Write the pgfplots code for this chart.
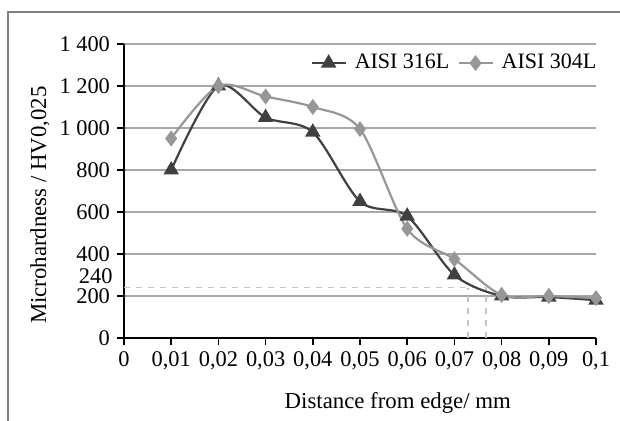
\documentclass[border=0pt]{standalone}
\usepackage{pgfplots}
\pgfplotsset{compat=1.18}
\usepackage{fontspec}
\setmainfont{Liberation Serif}
\definecolor{darkser}{HTML}{404040}
\definecolor{lightser}{HTML}{979797}
\definecolor{gridc}{HTML}{A8A8A8}
\definecolor{dashc}{HTML}{C4C4C4}
\begin{document}
\begin{tikzpicture}
\useasboundingbox (-62pt,-41.5pt) rectangle (248pt,169pt);
\begin{axis}[scale only axis, width=236pt, height=147pt,
  xmin=0, xmax=0.1, ymin=0, ymax=1400,
  axis x line=bottom, axis y line=left,
  axis line style={black, line width=0.9pt, -},
  tick align=outside, major tick length=3.5pt,
  tick style={black, line width=0.8pt},
  xtick={0,0.01,...,0.1},
  xticklabels={0,{0,01},{0,02},{0,03},{0,04},{0,05},{0,06},{0,07},{0,08},{0,09},{0,1}},
  ytick={0,200,...,1400},
  yticklabels={0,200,400,600,800,{1 000},{1 200},{1 400}},
  ymajorgrids, major grid style={gridc, line width=0.8pt},
  tick label style={font=\fontsize{11.2}{13}\selectfont},
  label style={font=\fontsize{11.4}{13}\selectfont},
  xlabel={Distance from edge/ mm},
  ylabel={Microhardness / HV0,025},
  xlabel style={at={(axis description cs:0.58,-0.221)}, anchor=center},
  ylabel style={at={(axis description cs:-0.178,0.452)}, anchor=center},
  clip=false,
  legend columns=2,
  legend style={at={(axis description cs:1.008,0.935)}, anchor=east, draw=none, fill=none,
    font=\fontsize{11}{13}\selectfont, column sep=2.5pt, inner sep=0pt,
    nodes={inner sep=1.5pt}},
  legend image code/.code={\draw[mark repeat=2,mark phase=2] plot coordinates {(0pt,0pt) (8.5pt,0pt) (17pt,0pt)};},
]
\addplot[dashc, dashed, line width=0.7pt, forget plot] coordinates {(0,240)(0.0767,240)};
\addplot[dashc, dashed, line width=0.7pt, forget plot] coordinates {(0.0729,0)(0.0729,240)};
\addplot[dashc, dashed, line width=0.7pt, forget plot] coordinates {(0.0767,0)(0.0767,240)};
\addplot[darkser, line width=1.1pt, smooth, tension=0.5, mark=triangle*, mark size=3.4pt,
  mark options={solid, fill=darkser}] coordinates {
  (0.01,800)(0.02,1200)(0.03,1050)(0.04,980)(0.05,650)(0.06,580)(0.07,300)(0.08,200)(0.09,195)(0.1,180)};
\addlegendentry{AISI 316L}
\addplot[lightser, line width=1.1pt, smooth, tension=0.5, mark=diamond*, mark size=3.1pt,
  mark options={solid, fill=lightser}] coordinates {
  (0.01,950)(0.02,1200)(0.03,1150)(0.04,1100)(0.05,995)(0.06,520)(0.07,375)(0.08,205)(0.09,200)(0.1,190)};
\addlegendentry{AISI 304L}
\node[anchor=east, font=\fontsize{11.2}{13}\selectfont, inner sep=0pt] at (axis cs:0,295) [xshift=-5.5pt] {240};
\end{axis}
\draw[gray, line width=0.75pt] (-58pt,-45pt) -- (-58pt,163pt) -- (252pt,163pt);
\end{tikzpicture}
\end{document}
